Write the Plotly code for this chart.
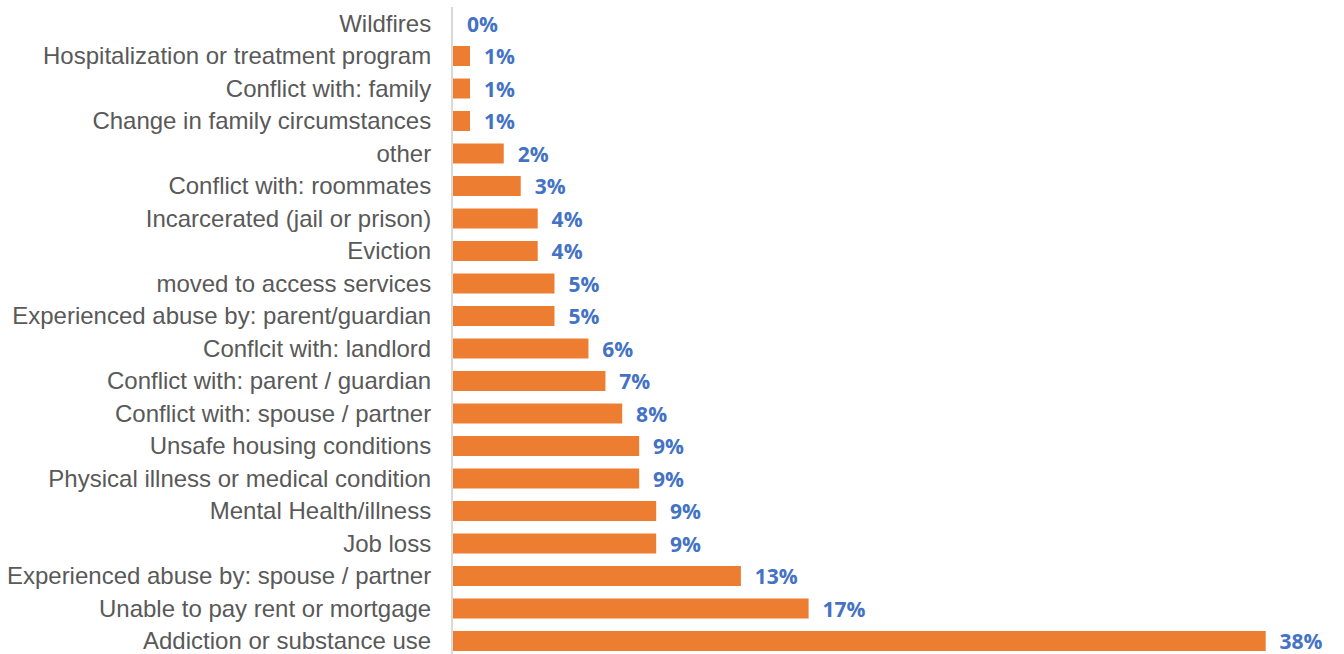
import plotly.graph_objects as go

# Reasons for losing housing, listed top to bottom
reasons = [
    "Wildfires",
    "Hospitalization or treatment program",
    "Conflict with: family",
    "Change in family circumstances",
    "other",
    "Conflict with: roommates",
    "Incarcerated (jail or prison)",
    "Eviction",
    "moved to access services",
    "Experienced abuse by: parent/guardian",
    "Conflcit with: landlord",
    "Conflict with: parent / guardian",
    "Conflict with: spouse / partner",
    "Unsafe housing conditions",
    "Physical illness or medical condition",
    "Mental Health/illness",
    "Job loss",
    "Experienced abuse by: spouse / partner",
    "Unable to pay rent or mortgage",
    "Addiction or substance use",
]

# Share of respondents (%)
shares = [
    0.00, 0.79, 0.79, 0.79, 2.36, 3.15, 3.94, 3.94, 4.72, 4.72,
    6.30, 7.09, 7.87, 8.66, 8.66, 9.45, 9.45, 13.39, 16.54, 37.80,
]

fig = go.Figure(
    go.Bar(
        x=shares,
        y=reasons,
        orientation="h",
        marker=dict(color="#ED7D31", line=dict(width=0)),
        texttemplate="\u00a0\u00a0%{x:.0f}%",
        textposition="outside",
        constraintext="none",
        cliponaxis=False,
        textfont=dict(family="Open Sans", size=21, color="#4472C4", weight="bold"),
        hoverinfo="skip",
    )
)

fig.update_layout(
    width=1344,
    height=654,
    margin=dict(l=453, r=31, t=7, b=0),
    paper_bgcolor="white",
    plot_bgcolor="white",
    bargap=0.385,
    showlegend=False,
    font=dict(family="Liberation Sans, Arial, sans-serif"),
)

fig.update_xaxes(
    range=[0, 40],
    showticklabels=False,
    showgrid=False,
    zeroline=False,
    showline=False,
    fixedrange=True,
)

fig.update_yaxes(
    type="category",
    range=[19.4, -0.508],
    showgrid=False,
    zeroline=False,
    showline=True,
    linecolor="#D9D9D9",
    linewidth=2,
    ticks="",
    ticklabelstandoff=15,
    tickfont=dict(family="Liberation Sans, Arial, sans-serif", size=24, color="#595959"),
    fixedrange=True,
)

fig.write_html("out.html")
